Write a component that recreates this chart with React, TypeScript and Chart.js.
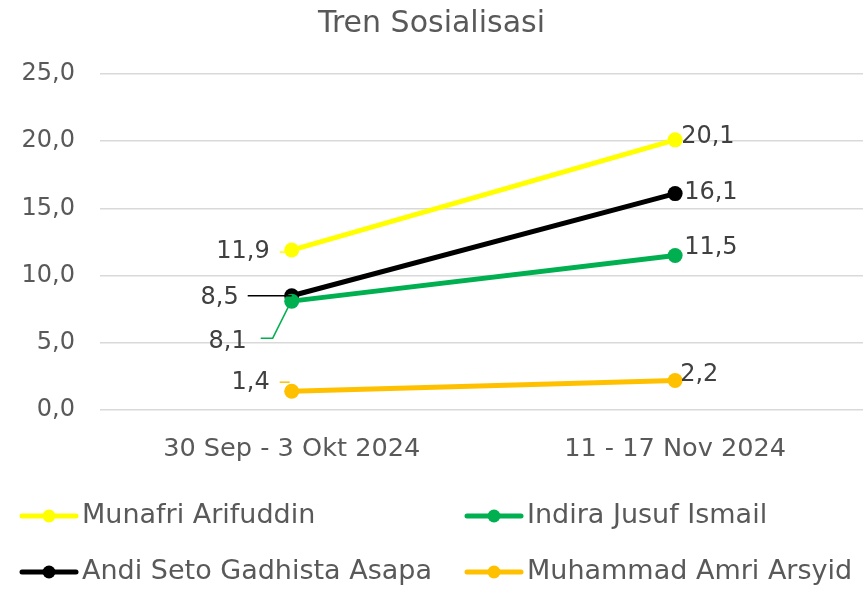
import React, { useEffect, useRef } from "react";
import { Chart, registerables } from "chart.js";

Chart.register(...registerables);

const categories = ["30 Sep - 3 Okt 2024", "11 - 17 Nov 2024"];
const seriesNames = ["Munafri Arifuddin", "Indira Jusuf Ismail", "Andi Seto Gadhista Asapa", "Muhammad Amri Arsyid"];
const munafri = [11.9, 20.1];
const indira = [8.1, 11.5];
const andi = [8.5, 16.1];
const amri = [1.4, 2.2];
const yTicks = [0, 5, 10, 15, 20, 25];

const FONT = "'DejaVu Sans', sans-serif";
const colors = ["#FFFF00", "#00B050", "#000000", "#FFC000"];
const seriesValues = [munafri, indira, andi, amri];

// label placement styling: [dx, dy] relative to point, and leader polylines relative to point
const labelStyle = [
  { left: [-22, 2], right: [6, -3], leader: [[-12, 2], [-2, 2]] },
  { left: [-45, 41], right: [9, -8], leader: [[-31, 37], [-19, 37], [-3, 5]] },
  { left: [-53, 2], right: [9, -1], leader: [[-44, 0], [0, 0]] },
  { left: [-22, -8], right: [5, -6], leader: [[-12, -9], [-2, -9]] },
];
// legend layout: order of datasets drawn in grid
const legendSlots = [
  { ds: 0, x: 22, y: 516 },
  { ds: 1, x: 467, y: 516 },
  { ds: 2, x: 22, y: 572 },
  { ds: 3, x: 467, y: 572 },
];

const fmt = (v: number) => v.toFixed(1).replace(".", ",");

const labelPlugin = {
  id: "dataLabels",
  afterDatasetsDraw(chart: any) {
    const ctx = chart.ctx;
    ctx.save();
    chart.data.datasets.forEach((ds: any, di: number) => {
      const meta = chart.getDatasetMeta(di);
      const st = labelStyle[di];
      meta.data.forEach((pt: any, i: number) => {
        const v = ds.data[i].y;
        ctx.font = `24px ${FONT}`;
        ctx.fillStyle = "#404040";
        ctx.textBaseline = "middle";
        if (i === 0) {
          ctx.strokeStyle = colors[di];
          ctx.lineWidth = 1.5;
          ctx.beginPath();
          st.leader.forEach((p: number[], k: number) => {
            const px = pt.x + p[0];
            const py = pt.y + p[1];
            if (k === 0) ctx.moveTo(px, py);
            else ctx.lineTo(px, py);
          });
          ctx.stroke();
          ctx.textAlign = "right";
          ctx.fillText(fmt(v), pt.x + st.left[0], pt.y + st.left[1]);
        } else {
          ctx.textAlign = "left";
          ctx.fillText(fmt(v), pt.x + st.right[0], pt.y + st.right[1]);
        }
      });
    });
    ctx.restore();
  },
};

const legendPlugin = {
  id: "gridLegend",
  afterDraw(chart: any) {
    const ctx = chart.ctx;
    ctx.save();
    legendSlots.forEach((s) => {
      const c = colors[s.ds];
      ctx.strokeStyle = c;
      ctx.lineWidth = 5;
      ctx.lineCap = "round";
      ctx.beginPath();
      ctx.moveTo(s.x, s.y);
      ctx.lineTo(s.x + 54, s.y);
      ctx.stroke();
      ctx.fillStyle = c;
      ctx.beginPath();
      ctx.arc(s.x + 27, s.y, 6.5, 0, Math.PI * 2);
      ctx.fill();
      ctx.fillStyle = "#595959";
      ctx.font = `27px ${FONT}`;
      ctx.textAlign = "left";
      ctx.textBaseline = "middle";
      ctx.fillText(chart.data.datasets[s.ds].label, s.x + 60, s.y);
    });
    ctx.restore();
  },
};

export default function App() {
  const ref = useRef<HTMLCanvasElement>(null);
  useEffect(() => {
    document.body.style.margin = "0";
    const chart = new Chart(ref.current as HTMLCanvasElement, {
      type: "line",
      data: {
        datasets: seriesValues.map((vals, di) => ({
          label: seriesNames[di],
          data: vals.map((v, i) => ({ x: i, y: v })),
          borderColor: colors[di],
          backgroundColor: colors[di],
          borderWidth: 5,
          pointRadius: 7.5,
          pointHoverRadius: 7.5,
          pointBorderWidth: 0,
          fill: false,
        })),
      },
      options: {
        animation: false,
        responsive: false,
        events: [],
        layout: { padding: 0, autoPadding: false },
        plugins: {
          legend: { display: false },
          tooltip: { enabled: false },
          title: {
            display: true,
            text: "Tren Sosialisasi",
            color: "#595959",
            font: { family: FONT, size: 30, weight: "normal", lineHeight: 1.2 },
            padding: { top: 6, bottom: 32 },
          },
        },
        scales: {
          x: {
            type: "linear",
            min: -0.5,
            max: 1.49,
            grid: { display: false },
            border: { display: false },
            afterBuildTicks: (scale: any) => {
              scale.ticks = categories.map((_, i) => ({ value: i }));
            },
            afterFit: (scale: any) => {
              scale.height = 179;
              scale.paddingLeft = 0;
              scale.paddingRight = 0;
            },
            ticks: {
              autoSkip: false,
              maxRotation: 0,
              padding: 16,
              color: "#595959",
              font: { family: FONT, size: 25.6 },
              callback: (v: any) => categories[v] ?? "",
            },
          },
          y: {
            min: 0,
            max: 25,
            afterBuildTicks: (scale: any) => {
              scale.ticks = yTicks.map((v) => ({ value: v }));
            },
            afterFit: (scale: any) => {
              scale.width = 100;
            },
            grid: { color: "#D9D9D9", lineWidth: 1.5, drawTicks: false },
            border: { display: false },
            ticks: {
              padding: 25,
              color: "#595959",
              font: { family: FONT, size: 24 },
              callback: (v: any) => fmt(Number(v)),
            },
          },
        },
      },
      plugins: [labelPlugin, legendPlugin],
    } as any);
    return () => chart.destroy();
  }, []);
  return (
    <div style={{ width: 863, height: 589 }}>
      <canvas ref={ref} width={863} height={589} style={{ display: "block" }} />
    </div>
  );
}
